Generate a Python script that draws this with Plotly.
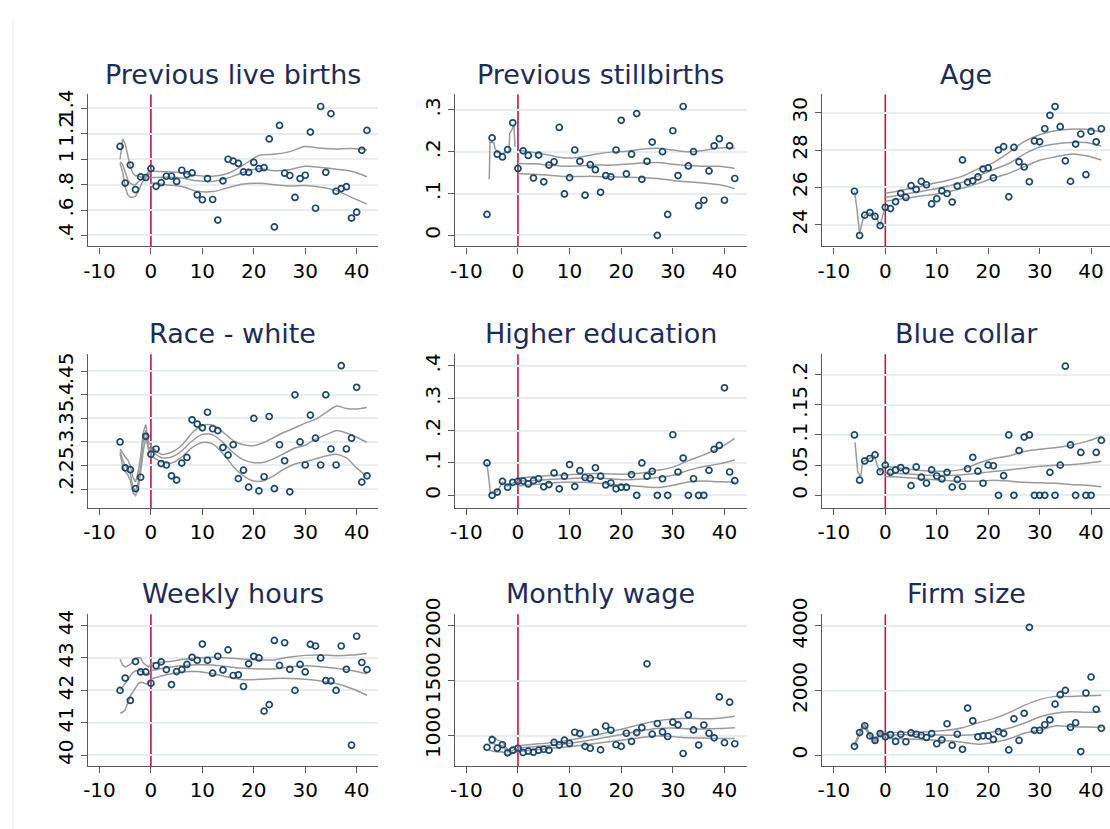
import plotly.graph_objects as go

# ---------------------------------------------------------------------------
# Event time (months relative to the event) and binned means per outcome
# ---------------------------------------------------------------------------
periods = list(range(-6, 43))

live_births = [1.101, 0.812, 0.954, 0.761, 0.861, 0.856, 0.926,
               0.787, 0.815, 0.866, 0.866, 0.825, 0.913, 0.879, 0.892, 0.720, 0.681,
               0.848, 0.683, 0.521, 0.830, 1.000, 0.985, 0.967, 0.900, 0.897, 0.975,
               0.926, 0.934, 1.160, 0.467, 1.266, 0.890, 0.872, 0.699, 0.848, 0.874,
               1.214, 0.614, 1.415, 0.897, 1.359, 0.748, 0.769, 0.784, 0.537, 0.583,
               1.070, 1.227]
stillbirths = [0.050, 0.233, 0.194, 0.1875, 0.205, 0.269, 0.160,
               0.202, 0.191, 0.137, 0.192, 0.128, 0.168, 0.176, 0.258, 0.099, 0.138,
               0.204, 0.177, 0.096, 0.169, 0.157, 0.103, 0.143, 0.140, 0.204, 0.275,
               0.147, 0.194, 0.291, 0.134, 0.177, 0.223, 0.000, 0.200, 0.050, 0.250,
               0.143, 0.308, 0.166, 0.200, 0.071, 0.084, 0.154, 0.214, 0.231, 0.084,
               0.214, 0.136]
age = [25.79, 23.42, 24.51, 24.65, 24.44, 23.95, 24.93,
       24.86, 25.23, 25.68, 25.46, 26.09, 25.89, 26.32, 26.14, 25.11, 25.39,
       25.81, 25.67, 25.21, 26.07, 27.47, 26.28, 26.35, 26.56, 26.98, 27.04,
       26.51, 28.00, 28.18, 25.49, 28.14, 27.37, 27.09, 26.30, 28.49, 28.44,
       29.14, 29.86, 30.33, 29.25, 27.42, 26.32, 28.32, 28.86, 26.68, 29.00,
       28.44, 29.14]
race_white = [0.300, 0.245, 0.241, 0.2007, 0.225, 0.312, 0.274,
              0.285, 0.254, 0.251, 0.228, 0.219, 0.255, 0.267, 0.347, 0.338, 0.330,
              0.363, 0.328, 0.324, 0.288, 0.272, 0.294, 0.222, 0.240, 0.204, 0.350,
              0.196, 0.226, 0.354, 0.2007, 0.294, 0.260, 0.194, 0.400, 0.300, 0.251,
              0.357, 0.308, 0.251, 0.400, 0.285, 0.251, 0.462, 0.285, 0.308, 0.416,
              0.2146, 0.228]
higher_edu = [0.100, 0.000, 0.010, 0.043, 0.025, 0.040, 0.043,
              0.044, 0.035, 0.045, 0.051, 0.026, 0.033, 0.069, 0.020, 0.059, 0.095,
              0.027, 0.076, 0.055, 0.052, 0.085, 0.059, 0.032, 0.038, 0.020, 0.025,
              0.025, 0.064, 0.000, 0.100, 0.059, 0.074, 0.000, 0.051, 0.000, 0.187,
              0.072, 0.115, 0.000, 0.051, 0.000, 0.000, 0.077, 0.142, 0.154, 0.332,
              0.072, 0.045]
blue_collar = [0.100, 0.025, 0.057, 0.061, 0.067, 0.039, 0.050,
               0.038, 0.042, 0.046, 0.041, 0.016, 0.047, 0.030, 0.020, 0.042, 0.032,
               0.027, 0.038, 0.0135, 0.026, 0.0146, 0.044, 0.063, 0.040, 0.020, 0.050,
               0.049, 0.000, 0.0325, 0.100, 0.000, 0.074, 0.0965, 0.100, 0.000, 0.000,
               0.000, 0.038, 0.000, 0.050, 0.214, 0.0835, 0.000, 0.071, 0.000, 0.000,
               0.071, 0.091]
weekly_hours = [42.00, 42.38, 41.69, 42.89, 42.57, 42.57, 42.22,
                42.76, 42.88, 42.64, 42.18, 42.58, 42.64, 42.80, 43.02, 42.93, 43.43,
                42.93, 42.53, 43.05, 42.63, 43.25, 42.46, 42.48, 42.12, 42.82, 43.05,
                43.00, 41.36, 41.56, 43.54, 42.77, 43.47, 42.65, 42.00, 42.80, 42.57,
                43.42, 43.37, 43.00, 42.30, 42.29, 42.00, 43.37, 42.65, 40.31, 43.67,
                42.86, 42.64]
monthly_wage = [892, 961, 884, 916, 842, 866, 884,
                845, 857, 848, 866, 875, 866, 937, 913, 958, 928,
                1030, 1018, 901, 884, 1030, 869, 1087, 1048, 916, 901,
                1021, 946, 1027, 1072, 1654, 1012, 1110, 1033, 991, 1122,
                1098, 836, 1188, 1051, 913, 1096, 1021, 979, 1352, 934,
                1304, 925]
firm_size = [273, 699, 911, 597, 456, 668, 567,
             638, 425, 648, 415, 689, 648, 608, 547, 668, 354,
             476, 972, 304, 648, 182, 1458, 1063, 567, 597, 597,
             486, 729, 668, 162, 1124, 456, 1296, 3959, 770, 770,
             942, 1094, 1580, 1873, 2005, 861, 1003, 111, 1924, 2420,
             1418, 830]

# ---------------------------------------------------------------------------
# Local polynomial fits with 95% bands (upper, fit, lower), pre and post event
# ---------------------------------------------------------------------------
pre_grid = [-6, -5.5, -5, -4.5, -4, -3.5, -3, -2.5, -2, -1.5, -1, -0.5, 0]
post_grid = [0, 3, 6, 9, 12, 15, 18, 21, 24, 27, 30, 33, 36, 39, 42]
race_post_grid = [0, 2, 4, 6, 8, 10, 12, 14, 16, 18, 20, 22, 24, 26, 28, 30,
                  32, 34, 36, 38, 40, 42]

live_births_pre_hi = [1.00, 1.16, 1.12, 1.02, 0.94, 0.89, 0.87, 0.87, 0.86, 0.86, 0.87, 0.90, 0.92]
live_births_pre_fit = [0.98, 0.96, 0.90, 0.84, 0.81, 0.80, 0.80, 0.82, 0.84, 0.85, 0.86, 0.89, 0.91]
live_births_pre_lo = [0.97, 0.90, 0.78, 0.72, 0.70, 0.70, 0.71, 0.74, 0.79, 0.83, 0.85, 0.88, 0.90]
live_births_post_hi = [0.905, 0.902, 0.893, 0.872, 0.866, 0.890, 0.955, 1.030, 1.039, 1.060,
                       1.100, 1.086, 1.080, 1.084, 1.073]
live_births_post_fit = [0.856, 0.858, 0.852, 0.830, 0.825, 0.852, 0.898, 0.925, 0.910, 0.918,
                        0.945, 0.935, 0.922, 0.905, 0.862]
live_births_post_lo = [0.815, 0.800, 0.785, 0.748, 0.745, 0.775, 0.805, 0.810, 0.800, 0.789,
                       0.793, 0.780, 0.755, 0.700, 0.647]

stillbirths_pre_x = [-5.55, -5.42, -4.65, -4.45, -4.0, -3.03, -2.0, -1.74, -1.6, -1.1, -0.77, -0.58]
stillbirths_pre_fit = [0.134, 0.223, 0.221, 0.208, 0.198, 0.195, 0.200, 0.200, 0.243, 0.255, 0.262, 0.212]
stillbirths_post_hi = [0.204, 0.198, 0.192, 0.185, 0.187, 0.194, 0.199, 0.201, 0.206, 0.208,
                       0.204, 0.200, 0.203, 0.209, 0.209]
stillbirths_post_fit = [0.172, 0.171, 0.168, 0.165, 0.166, 0.168, 0.168, 0.170, 0.173, 0.174,
                        0.170, 0.167, 0.165, 0.165, 0.160]
stillbirths_post_lo = [0.148, 0.146, 0.144, 0.141, 0.141, 0.141, 0.140, 0.139, 0.138, 0.136,
                       0.131, 0.128, 0.125, 0.121, 0.112]

age_pre_x = [-6, -5.5, -5, -4.4, -4, -3, -2, -1, -0.5, 0]
age_pre_fit = [25.79, 24.84, 23.50, 24.25, 24.50, 24.63, 24.47, 23.96, 24.50, 24.93]
age_post_hi = [25.68, 25.83, 26.00, 26.19, 26.37, 26.60, 26.99, 27.33, 27.86, 28.45,
               28.82, 29.03, 29.12, 29.11, 28.96]
age_post_fit = [25.46, 25.60, 25.74, 25.88, 26.06, 26.27, 26.60, 26.95, 27.28, 27.78,
                28.16, 28.33, 28.41, 28.40, 28.21]
age_post_lo = [25.25, 25.37, 25.50, 25.60, 25.75, 25.95, 26.20, 26.50, 26.75, 27.10,
               27.45, 27.63, 27.78, 27.70, 27.47]

race_pre_hi = [0.285, 0.275, 0.268, 0.262, 0.250, 0.225, 0.215, 0.235, 0.270, 0.320, 0.337, 0.300, 0.292]
race_pre_fit = [0.280, 0.262, 0.250, 0.243, 0.232, 0.205, 0.195, 0.212, 0.250, 0.300, 0.325, 0.290, 0.283]
race_pre_lo = [0.275, 0.250, 0.237, 0.230, 0.218, 0.192, 0.186, 0.200, 0.235, 0.280, 0.310, 0.285, 0.271]
race_post_hi = [0.292, 0.274, 0.278, 0.293, 0.319, 0.335, 0.336, 0.321, 0.303, 0.294, 0.292,
                0.299, 0.310, 0.321, 0.330, 0.340, 0.348, 0.362, 0.376, 0.371, 0.370, 0.373]
race_post_fit = [0.283, 0.267, 0.268, 0.281, 0.302, 0.316, 0.315, 0.299, 0.277, 0.262, 0.256,
                 0.257, 0.265, 0.276, 0.287, 0.293, 0.306, 0.315, 0.324, 0.319, 0.310, 0.299]
race_post_lo = [0.271, 0.258, 0.255, 0.268, 0.288, 0.299, 0.296, 0.275, 0.248, 0.228, 0.217,
                0.218, 0.229, 0.243, 0.253, 0.258, 0.264, 0.270, 0.274, 0.266, 0.245, 0.227]

edu_pre_x = [-6, -5.3, -4, -3, -2, -1, 0]
edu_pre_fit = [0.100, 0.005, 0.012, 0.040, 0.028, 0.038, 0.043]
edu_post_hi = [0.054, 0.057, 0.061, 0.063, 0.065, 0.067, 0.066, 0.065, 0.069, 0.077,
               0.087, 0.107, 0.125, 0.146, 0.176]
edu_post_fit = [0.044, 0.046, 0.049, 0.051, 0.053, 0.054, 0.051, 0.048, 0.050, 0.055,
                0.062, 0.077, 0.089, 0.097, 0.109]
edu_post_lo = [0.029, 0.033, 0.037, 0.040, 0.040, 0.038, 0.034, 0.030, 0.027, 0.024,
               0.031, 0.041, 0.044, 0.042, 0.041]

blue_pre_x = [-5.9, -5.35, -4.8, -4.4, -4, -3, -2.1, -1.5, -1, -0.5, 0]
blue_pre_fit = [0.088, 0.0385, 0.030, 0.055, 0.057, 0.061, 0.0655, 0.048, 0.0396, 0.044, 0.050]
blue_post_hi = [0.048, 0.045, 0.042, 0.040, 0.040, 0.043, 0.053, 0.061, 0.065, 0.0726,
                0.0764, 0.079, 0.083, 0.089, 0.098]
blue_post_fit = [0.037, 0.036, 0.0345, 0.033, 0.0327, 0.034, 0.0365, 0.0395, 0.042, 0.045,
                 0.048, 0.050, 0.0505, 0.053, 0.0564]
blue_post_lo = [0.031, 0.030, 0.028, 0.026, 0.0245, 0.0233, 0.0233, 0.025, 0.0235, 0.0215,
                0.0207, 0.020, 0.018, 0.0165, 0.014]

hours_pre_hi = [42.96, 42.78, 42.72, 42.75, 42.80, 42.90, 42.99, 43.01, 43.00, 42.85, 42.78, 42.72, 42.82]
hours_pre_fit = [42.00, 42.10, 42.20, 42.32, 42.45, 42.55, 42.60, 42.62, 42.60, 42.55, 42.50, 42.48, 42.55]
hours_pre_lo = [41.29, 41.33, 41.40, 41.60, 41.83, 41.95, 42.10, 42.20, 42.25, 42.24, 42.20, 42.22, 42.35]
hours_post_hi = [42.84, 42.88, 42.95, 43.00, 43.02, 43.00, 42.96, 42.94, 42.94, 43.03,
                 43.08, 43.09, 43.07, 43.09, 43.14]
hours_post_fit = [42.61, 42.70, 42.76, 42.79, 42.78, 42.73, 42.68, 42.66, 42.66, 42.72,
                  42.76, 42.73, 42.68, 42.61, 42.51]
hours_post_lo = [42.35, 42.48, 42.57, 42.58, 42.51, 42.41, 42.33, 42.34, 42.37, 42.37,
                 42.34, 42.29, 42.21, 42.06, 41.85]

wage_pre_x = [-5.6, -5, -4, -3, -2, -1, 0]
wage_pre_hi = [988, 997, 960, 940, 870, 885, 907]
wage_pre_fit = [928, 930, 915, 905, 850, 862, 884]
wage_pre_lo = [869, 858, 850, 852, 818, 838, 854]
wage_post_hi = [907, 920, 933, 950, 975, 1003, 1035, 1068, 1105, 1133, 1150, 1158, 1152, 1158, 1176]
wage_post_fit = [884, 897, 908, 923, 944, 967, 992, 1018, 1045, 1065, 1068, 1062, 1060, 1064, 1072]
wage_post_lo = [854, 868, 882, 893, 910, 928, 946, 964, 982, 996, 990, 979, 978, 973, 973]

firm_pre_hi = [330, 520, 740, 900, 960, 800, 650, 560, 490, 610, 730, 650, 600]
firm_pre_fit = [300, 480, 700, 860, 900, 760, 610, 520, 440, 560, 680, 610, 570]
firm_pre_lo = [270, 450, 660, 820, 860, 720, 570, 480, 400, 510, 630, 570, 540]
firm_post_hi = [699, 705, 715, 735, 770, 850, 1000, 1130, 1310, 1540, 1720, 1820, 1813, 1840, 1855]
firm_post_fit = [618, 630, 638, 625, 618, 618, 650, 715, 830, 990, 1180, 1300, 1347, 1327, 1347]
firm_post_lo = [516, 505, 490, 470, 445, 400, 340, 395, 500, 680, 770, 905, 880, 871, 861]

# ---------------------------------------------------------------------------
# Titles, y-axis ticks and ranges
# ---------------------------------------------------------------------------
titles = ["Previous live births", "Previous stillbirths", "Age",
          "Race - white", "Higher education", "Blue collar",
          "Weekly hours", "Monthly wage", "Firm size"]

panels = [
    dict(values=live_births, pre_x=pre_grid,
         pre=[live_births_pre_hi, live_births_pre_fit, live_births_pre_lo],
         post_x=post_grid, post=[live_births_post_hi, live_births_post_fit, live_births_post_lo],
         yrange=[0.313, 1.51], tickvals=[0.4, 0.6, 0.8, 1.0, 1.2, 1.4],
         ticktext=[".4", ".6", ".8", "1", "1.2", "1.4"]),
    dict(values=stillbirths, pre_x=stillbirths_pre_x, pre=[stillbirths_pre_fit],
         post_x=post_grid, post=[stillbirths_post_hi, stillbirths_post_fit, stillbirths_post_lo],
         yrange=[-0.0265, 0.3368], tickvals=[0, 0.1, 0.2, 0.3],
         ticktext=["0", ".1", ".2", ".3"]),
    dict(values=age, pre_x=age_pre_x, pre=[age_pre_fit],
         post_x=post_grid, post=[age_post_hi, age_post_fit, age_post_lo],
         yrange=[22.83, 30.98], tickvals=[24, 26, 28, 30],
         ticktext=["24", "26", "28", "30"]),
    dict(values=race_white, pre_x=pre_grid, pre=[race_pre_hi, race_pre_fit, race_pre_lo],
         post_x=race_post_grid, post=[race_post_hi, race_post_fit, race_post_lo],
         yrange=[0.1596, 0.486], tickvals=[0.2, 0.25, 0.3, 0.35, 0.4, 0.45],
         ticktext=[".2", ".25", ".3", ".35", ".4", ".45"]),
    dict(values=higher_edu, pre_x=edu_pre_x, pre=[edu_pre_fit],
         post_x=post_grid, post=[edu_post_hi, edu_post_fit, edu_post_lo],
         yrange=[-0.0394, 0.4354], tickvals=[0, 0.1, 0.2, 0.3, 0.4],
         ticktext=["0", ".1", ".2", ".3", ".4"]),
    dict(values=blue_collar, pre_x=blue_pre_x, pre=[blue_pre_fit],
         post_x=post_grid, post=[blue_post_hi, blue_post_fit, blue_post_lo],
         yrange=[-0.0211, 0.2336], tickvals=[0, 0.05, 0.1, 0.15, 0.2],
         ticktext=["0", ".05", ".1", ".15", ".2"]),
    dict(values=weekly_hours, pre_x=pre_grid, pre=[hours_pre_hi, hours_pre_fit, hours_pre_lo],
         post_x=post_grid, post=[hours_post_hi, hours_post_fit, hours_post_lo],
         yrange=[39.66, 44.35], tickvals=[40, 41, 42, 43, 44],
         ticktext=["40", "41", "42", "43", "44"]),
    dict(values=monthly_wage, pre_x=wage_pre_x, pre=[wage_pre_hi, wage_pre_fit, wage_pre_lo],
         post_x=post_grid, post=[wage_post_hi, wage_post_fit, wage_post_lo],
         yrange=[719.8, 2107], tickvals=[1000, 1500, 2000],
         ticktext=["1000", "1500", "2000"]),
    dict(values=firm_size, pre_x=pre_grid, pre=[firm_pre_hi, firm_pre_fit, firm_pre_lo],
         post_x=post_grid, post=[firm_post_hi, firm_post_fit, firm_post_lo],
         yrange=[-343, 4364], tickvals=[0, 2000, 4000],
         ticktext=["0", "2000", "4000"]),
]

x_tickvals = [-10, 0, 10, 20, 30, 40]
x_ticktext = ["-10", "0", "10", "20", "30", "40"]
event_time = 0

# ---------------------------------------------------------------------------
# Style and grid layout
# ---------------------------------------------------------------------------
FONT = "DejaVu Sans"
NAVY = "#1a476f"
FIT_GRAY = "#9a9a9a"
EVENT_RED = "#c8143c"
AXIS_GRAY = "#5a5a5a"
GRID = "#e6eef3"
TITLE_COLOR = "#1e2b58"

col_domains = [(0.0748, 0.3378), (0.4072, 0.6712), (0.7396, 1.0)]
col_xranges = [(-12.3, 44.2), (-12.2, 44.3), (-12.26, 43.68)]
row_domains = [(0.7165, 0.9035), (0.3948, 0.5838), (0.0772, 0.2642)]
title_y = [0.9276, 0.6092, 0.2895]

fig = go.Figure()
layout = dict(
    width=1110, height=829,
    margin=dict(l=0, r=0, t=0, b=0),
    paper_bgcolor="white", plot_bgcolor="white",
    showlegend=False,
    font=dict(family=FONT, color="black"),
    shapes=[], annotations=[],
)

for i, p in enumerate(panels):
    n = i + 1
    row, col = divmod(i, 3)
    xa = "x" if n == 1 else f"x{n}"
    ya = "y" if n == 1 else f"y{n}"
    xkey = "xaxis" if n == 1 else f"xaxis{n}"
    ykey = "yaxis" if n == 1 else f"yaxis{n}"

    for ys in p["pre"]:
        fig.add_trace(go.Scatter(
            x=p["pre_x"], y=ys, mode="lines", xaxis=xa, yaxis=ya,
            line=dict(color=FIT_GRAY, width=1.5), hoverinfo="skip"))
    for ys in p["post"]:
        fig.add_trace(go.Scatter(
            x=p["post_x"], y=ys, mode="lines", xaxis=xa, yaxis=ya,
            line=dict(color=FIT_GRAY, width=1.5, shape="spline", smoothing=0.9),
            hoverinfo="skip"))
    fig.add_trace(go.Scatter(
        x=periods, y=p["values"], mode="markers", xaxis=xa, yaxis=ya,
        marker=dict(symbol="circle-open", size=6, color=NAVY, line=dict(width=1.7))))

    layout[xkey] = dict(
        domain=list(col_domains[col]), range=list(col_xranges[col]),
        anchor=ya, showgrid=False, zeroline=False,
        showline=True, linecolor=AXIS_GRAY, linewidth=1.2,
        ticks="outside", ticklen=6, tickwidth=1.2, tickcolor=AXIS_GRAY,
        tickvals=x_tickvals, ticktext=x_ticktext,
        tickfont=dict(family=FONT, size=20, color="black"),
    )
    layout[ykey] = dict(
        domain=list(row_domains[row]), range=p["yrange"],
        anchor=xa, showgrid=True, gridcolor=GRID, gridwidth=1.5, zeroline=False,
        showline=True, linecolor=AXIS_GRAY, linewidth=1.2,
        ticks="outside", ticklen=6, tickwidth=1.2, tickcolor=AXIS_GRAY,
        tickvals=p["tickvals"], ticktext=p["ticktext"], tickangle=-90,
        tickfont=dict(family=FONT, size=20, color="black"),
    )

    layout["shapes"].append(dict(
        type="line", xref=xa, yref=f"{ya} domain", x0=event_time, x1=event_time,
        y0=0, y1=1, line=dict(color=EVENT_RED, width=1.6), layer="below"))

    layout["annotations"].append(dict(
        text=titles[i], xref="paper", yref="paper",
        x=sum(col_domains[col]) / 2, y=title_y[row],
        xanchor="center", yanchor="middle", showarrow=False,
        font=dict(family=FONT, size=27, color=TITLE_COLOR)))

# faint outer frame edge on the left of the graph region
layout["shapes"].append(dict(
    type="line", xref="paper", yref="paper", x0=0.0072, x1=0.0072, y0=0, y1=0.994,
    line=dict(color="#ececec", width=1)))

fig.update_layout(**layout)
fig.write_html("out.html", config={"displayModeBar": False})
